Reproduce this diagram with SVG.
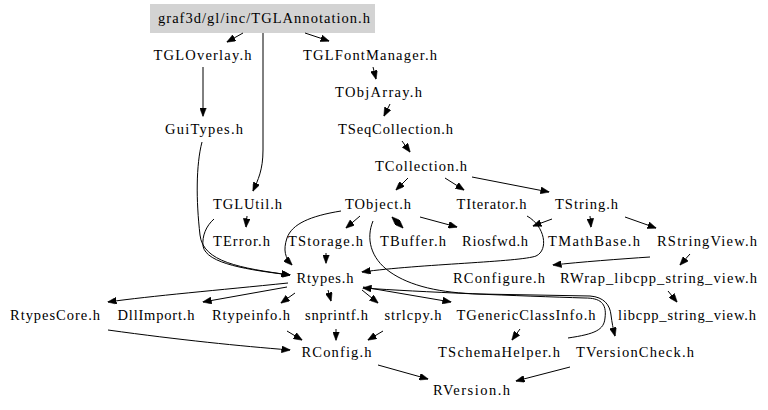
<svg xmlns="http://www.w3.org/2000/svg" width="768" height="410" viewBox="0 0 768 410">
<style>
text{font-family:'Liberation Serif','Times New Roman',Times,'DejaVu Serif',serif;font-size:14.5px;fill:#000;text-anchor:middle}
.e path{fill:none;stroke:#000;stroke-width:1;marker-end:url(#ah)}
</style>
<defs>
<marker id="ah" markerUnits="userSpaceOnUse" markerWidth="9" markerHeight="7" refX="8.5" refY="3.5" orient="auto">
<path d="M0,0 L9,3.5 L0,7 z" fill="#000" stroke="#000" stroke-width="0.5"/>
</marker>
</defs>
<rect width="768" height="410" fill="#fff"/>
<g font-family="Liberation Serif, Times New Roman, serif">
<g id="n0"><rect x="150" y="4" width="225" height="29" fill="#d3d3d3"/><text x="264" y="23" textLength="212">graf3d/gl/inc/TGLAnnotation.h</text></g>
<g id="n1"><text x="202.5" y="60" textLength="98">TGLOverlay.h</text></g>
<g id="n2"><text x="370" y="60" textLength="134">TGLFontManager.h</text></g>
<g id="n3"><text x="378.5" y="97" textLength="87">TObjArray.h</text></g>
<g id="n4"><text x="204" y="134" textLength="78">GuiTypes.h</text></g>
<g id="n5"><text x="395.5" y="134" textLength="115">TSeqCollection.h</text></g>
<g id="n6"><text x="421" y="171" textLength="92">TCollection.h</text></g>
<g id="n7"><text x="247.5" y="208.5" textLength="69">TGLUtil.h</text></g>
<g id="n8"><text x="378" y="208.5" textLength="66">TObject.h</text></g>
<g id="n9"><text x="491.5" y="208.5" textLength="70">TIterator.h</text></g>
<g id="n10"><text x="586.5" y="208.5" textLength="63">TString.h</text></g>
<g id="n11"><text x="241.5" y="246" textLength="57">TError.h</text></g>
<g id="n12"><text x="325.5" y="246" textLength="75">TStorage.h</text></g>
<g id="n13"><text x="413" y="246" textLength="66">TBuffer.h</text></g>
<g id="n14"><text x="495" y="246" textLength="66">Riosfwd.h</text></g>
<g id="n15"><text x="594" y="246" textLength="92">TMathBase.h</text></g>
<g id="n16"><text x="707" y="246" textLength="100">RStringView.h</text></g>
<g id="n17"><text x="325" y="283" textLength="57">Rtypes.h</text></g>
<g id="n18"><text x="499" y="283" textLength="92">RConfigure.h</text></g>
<g id="n19"><text x="658.5" y="283" textLength="197">RWrap_libcpp_string_view.h</text></g>
<g id="n20"><text x="55" y="320" textLength="90">RtypesCore.h</text></g>
<g id="n21"><text x="156" y="320" textLength="77">DllImport.h</text></g>
<g id="n22"><text x="251" y="320" textLength="78">Rtypeinfo.h</text></g>
<g id="n23"><text x="336.5" y="320" textLength="63">snprintf.h</text></g>
<g id="n24"><text x="413" y="320" textLength="57">strlcpy.h</text></g>
<g id="n25"><text x="526" y="320" textLength="139">TGenericClassInfo.h</text></g>
<g id="n26"><text x="687" y="320" textLength="138">libcpp_string_view.h</text></g>
<g id="n27"><text x="336.5" y="357" textLength="70">RConfig.h</text></g>
<g id="n28"><text x="499" y="357" textLength="122">TSchemaHelper.h</text></g>
<g id="n29"><text x="635" y="357" textLength="118">TVersionCheck.h</text></g>
<g id="n30"><text x="471.5" y="394.5" textLength="77">RVersion.h</text></g>
</g>
<g id="edges" class="e">
<path d="M243,33 L227,42"/>
<path d="M305,33 L329,41"/>
<path d="M263,33 L263,150 C263,170 258,180 253,191"/>
<path d="M203,67 L203,116"/>
<path d="M373,67 L376,79"/>
<path d="M390,104 L384,116"/>
<path d="M402,141 L410,152"/>
<path d="M408,178 L396,190"/>
<path d="M445,178 L464,190"/>
<path d="M472,177 L549,192"/>
<path d="M202,142 C196,165 196,200 200,235 C203,262 240,268 290,275"/>
<path d="M214,219 C206,226 202,236 203,246 C206,264 250,270 290,275"/>
<path d="M247,216 L246,227"/>
<path d="M341,211 C310,216 292,224 287,238 C283,250 285,258 292,265"/>
<path d="M360,216 L346,228"/>
<path d="M392,217 L403,228"/>
<path d="M403,228 L392,217"/>
<path d="M420,217 L457,227"/>
<path d="M373,221 C366,238 370,258 390,272 C410,286 440,293 480,294 L590,296 C604,297 610,305 611,315 C612,323 613,328 615,336"/>
<path d="M326,253 L326,263"/>
<path d="M527,216 C545,226 549,250 536,256 C520,262 420,264 362,272"/>
<path d="M552,219 L533,226"/>
<path d="M590,216 L591,227"/>
<path d="M625,217 L656,228"/>
<path d="M650,257 C620,259 580,262 553,265"/>
<path d="M690,254 L680,265"/>
<path d="M668,291 L677,302"/>
<path d="M288,283 C220,290 150,296 108,302"/>
<path d="M287,287 L203,302"/>
<path d="M295,293 L281,303"/>
<path d="M328,290 L331,301"/>
<path d="M362,290 L378,303"/>
<path d="M363,287 L451,302"/>
<path d="M568,338 C595,334 604,330 605,318 C607,303 600,298 585,298 C520,296 420,292 363,288"/>
<path d="M287,331 L302,340"/>
<path d="M336,329 L336,340"/>
<path d="M383,331 L368,340"/>
<path d="M108,330 C180,340 240,346 290,350"/>
<path d="M520,329 L512,340"/>
<path d="M378,365 L428,379"/>
<path d="M570,367 L516,381"/>
</g>
</svg>
